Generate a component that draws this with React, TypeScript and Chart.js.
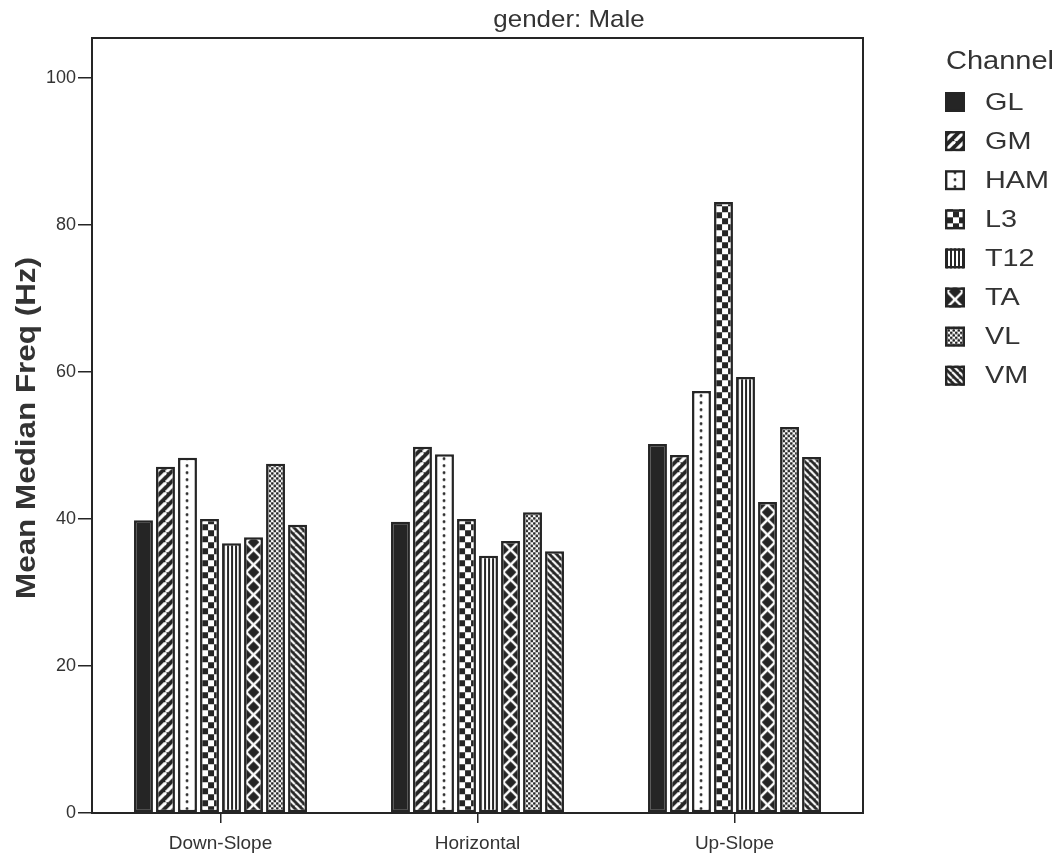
import React, { useEffect, useRef } from "react";
import { Chart, registerables } from "chart.js";

Chart.register(...registerables);

// ---- data ----
const categories = ["Down-Slope", "Horizontal", "Up-Slope"];
const channels = ["GL", "GM", "HAM", "L3", "T12", "TA", "VL", "VM"];
const glValues = [39.8, 39.6, 50.2];
const gmValues = [47.1, 49.8, 48.7];
const hamValues = [48.3, 48.8, 57.4];
const l3Values = [40.0, 40.0, 83.1];
const t12Values = [36.7, 35.0, 59.3];
const taValues = [37.5, 37.0, 42.3];
const vlValues = [47.5, 40.9, 52.5];
const vmValues = [39.2, 35.6, 48.4];
const yTickValues = [0, 20, 40, 60, 80, 100];

const seriesValues = [glValues, gmValues, hamValues, l3Values, t12Values, taValues, vlValues, vmValues];

// ---- styling ----
const INK = "#252525";
const TEXT = "#333333";
const FONT = '"Liberation Sans", Arial, Helvetica, sans-serif';

type Kind = "solid" | "slash" | "dots" | "checker" | "vlines" | "cross" | "mesh" | "backslash";
const fillKinds: Kind[] = ["solid", "slash", "dots", "checker", "vlines", "cross", "mesh", "backslash"];

// One repeating tile for each hatch style; w is the width of the bar it fills.
function makeTile(kind: Kind, w: number): HTMLCanvasElement {
  const c = document.createElement("canvas");
  const g = c.getContext("2d")!;
  const size = (tw: number, th: number) => {
    c.width = tw;
    c.height = th;
  };
  switch (kind) {
    case "slash": {
      size(10, 10);
      g.fillStyle = INK;
      g.fillRect(0, 0, 10, 10);
      g.strokeStyle = "#fff";
      g.lineWidth = 3.2;
      for (const o of [-10, 0, 10]) {
        g.beginPath();
        g.moveTo(o, 10);
        g.lineTo(o + 10, 0);
        g.stroke();
      }
      break;
    }
    case "backslash": {
      size(7, 7);
      g.fillStyle = INK;
      g.fillRect(0, 0, 7, 7);
      g.strokeStyle = "#fff";
      g.lineWidth = 2.2;
      for (const o of [-7, 0, 7]) {
        g.beginPath();
        g.moveTo(o, 0);
        g.lineTo(o + 7, 7);
        g.stroke();
      }
      break;
    }
    case "dots": {
      const tw = Math.round(w) + 30;
      size(tw, 7);
      g.fillStyle = "#fff";
      g.fillRect(0, 0, tw, 7);
      g.fillStyle = INK;
      g.beginPath();
      g.arc(Math.round(w / 2), 3.5, 1.4, 0, Math.PI * 2);
      g.fill();
      break;
    }
    case "checker": {
      size(12, 12);
      g.fillStyle = "#fff";
      g.fillRect(0, 0, 12, 12);
      g.fillStyle = INK;
      g.fillRect(0, 0, 6, 6);
      g.fillRect(6, 6, 6, 6);
      break;
    }
    case "vlines": {
      size(4, 4);
      g.fillStyle = "#fff";
      g.fillRect(0, 0, 4, 4);
      g.fillStyle = INK;
      g.fillRect(0, 0, 2, 4);
      break;
    }
    case "cross": {
      const s = Math.max(8, Math.round(w - 4));
      size(s, s);
      g.fillStyle = INK;
      g.fillRect(0, 0, s, s);
      g.strokeStyle = "#fff";
      g.lineWidth = 2.4;
      g.beginPath();
      g.moveTo(0, 0);
      g.lineTo(s, s);
      g.moveTo(s, 0);
      g.lineTo(0, s);
      g.stroke();
      break;
    }
    case "mesh": {
      size(5, 5);
      g.fillStyle = "#fff";
      g.fillRect(0, 0, 5, 5);
      g.fillStyle = INK;
      for (const [cx, cy] of [[1.25, 1.25], [3.75, 3.75]]) {
        g.beginPath();
        g.arc(cx, cy, 1.4, 0, Math.PI * 2);
        g.fill();
      }
      break;
    }
    default: {
      size(2, 2);
      g.fillStyle = INK;
      g.fillRect(0, 0, 2, 2);
    }
  }
  return c;
}

// A pattern anchored to the left edge / base of a box so every bar starts its hatch the same way.
function anchoredFill(ctx: CanvasRenderingContext2D, kind: Kind, w: number, left: number, base: number) {
  if (kind === "solid") return INK;
  const p = ctx.createPattern(makeTile(kind, w), "repeat")!;
  const ox = kind === "cross" || kind === "checker" ? left + 2 : kind === "vlines" ? left + 1 : left;
  p.setTransform(new DOMMatrix().translate(ox, base));
  return p;
}

// Text drawn with a slight horizontal stretch (wide grotesque look).
function stretchedText(
  ctx: CanvasRenderingContext2D,
  text: string,
  x: number,
  y: number,
  font: string,
  sx: number,
  align: CanvasTextAlign
) {
  ctx.save();
  ctx.font = font;
  ctx.fillStyle = TEXT;
  ctx.textAlign = align;
  ctx.textBaseline = "middle";
  ctx.translate(x, y);
  ctx.scale(sx, 1);
  ctx.fillText(text, 0, 0);
  ctx.restore();
}

const hatchPlugin = {
  id: "hatchFill",
  afterDatasetsUpdate(chart: any) {
    chart.data.datasets.forEach((_: any, i: number) => {
      const kind = fillKinds[i];
      const meta = chart.getDatasetMeta(i);
      meta.data.forEach((el: any) => {
        const { x, width, base } = el.getProps(["x", "width", "base"], true);
        const fill = anchoredFill(chart.ctx, kind, width, x - width / 2, base);
        el.options = Object.create(el.options, {
          backgroundColor: { value: fill, enumerable: true },
        });
      });
    });
  },
};

const decorPlugin = {
  id: "decor",
  beforeDraw(chart: any) {
    const { ctx, width, height } = chart;
    ctx.save();
    ctx.fillStyle = "#ffffff";
    ctx.fillRect(0, 0, width, height);
    ctx.restore();
  },
  afterDraw(chart: any) {
    const { ctx, chartArea } = chart;
    const { left, right, top, bottom } = chartArea;

    // frame around the plotting area
    ctx.save();
    ctx.strokeStyle = INK;
    ctx.lineWidth = 2;
    ctx.strokeRect(left, top, right - left, bottom - top);
    ctx.restore();

    // panel title
    stretchedText(ctx, "gender: Male", 569, 20, `24px ${FONT}`, 1.08, "center");

    // y axis title
    const yTitle = "Mean Median Freq (Hz)";
    ctx.save();
    ctx.font = `bold 28px ${FONT}`;
    const natural = ctx.measureText(yTitle).width;
    ctx.translate(27, 428);
    ctx.rotate(-Math.PI / 2);
    ctx.scale(342 / natural, 1);
    ctx.fillStyle = TEXT;
    ctx.textAlign = "center";
    ctx.textBaseline = "middle";
    ctx.fillText(yTitle, 0, 0);
    ctx.restore();

    // legend
    stretchedText(ctx, "Channel", 946, 62, `25px ${FONT}`, 1.16, "left");
    const boxLeft = 945;
    const box = 20;
    chart.data.datasets.forEach((ds: any, i: number) => {
      const cy = 102 + i * 39.1;
      const bt = cy - box / 2;
      ctx.save();
      ctx.fillStyle = anchoredFill(ctx, fillKinds[i], box, boxLeft, bt + box);
      ctx.fillRect(boxLeft, bt, box, box);
      ctx.strokeStyle = INK;
      ctx.lineWidth = 2.4;
      ctx.strokeRect(boxLeft + 1.2, bt + 1.2, box - 2.4, box - 2.4);
      ctx.restore();
      stretchedText(ctx, ds.label, 985, cy + 1, `24px ${FONT}`, 1.2, "left");
    });
  },
};

export default function App() {
  const canvasRef = useRef<HTMLCanvasElement | null>(null);

  useEffect(() => {
    const canvas = canvasRef.current;
    if (!canvas) return;
    Chart.defaults.font.family = FONT;

    const chart = new Chart(canvas, {
      type: "bar",
      data: {
        labels: categories,
        datasets: channels.map((name, i) => ({
          label: name,
          data: seriesValues[i],
          backgroundColor: INK,
          borderColor: INK,
          borderWidth: 2.5,
          borderSkipped: false,
          categoryPercentage: 0.685,
          barPercentage: 0.86,
        })),
      },
      options: {
        responsive: false,
        animation: false,
        devicePixelRatio: 1,
        layout: { padding: { left: 0, right: 200, top: 38, bottom: 0 } },
        plugins: {
          legend: { display: false },
          title: { display: false },
          tooltip: { enabled: false },
        },
        scales: {
          x: {
            afterFit: (s: any) => {
              s.height = 44;
            },
            grid: {
              offset: false,
              drawOnChartArea: false,
              drawTicks: true,
              tickLength: 10,
              color: INK,
              lineWidth: 1.5,
            },
            border: { display: false },
            ticks: {
              color: TEXT,
              padding: 9,
              font: { family: FONT, size: 19 },
              maxRotation: 0,
            },
          },
          y: {
            min: 0,
            max: 105.4,
            afterFit: (s: any) => {
              s.width = 92;
            },
            afterBuildTicks: (s: any) => {
              s.ticks = yTickValues.map((v) => ({ value: v }));
            },
            grid: {
              drawOnChartArea: false,
              drawTicks: true,
              tickLength: 14,
              color: INK,
              lineWidth: 1.5,
            },
            border: { display: false },
            ticks: {
              color: TEXT,
              padding: 2,
              font: { family: FONT, size: 18 },
            },
          },
        },
      },
      plugins: [hatchPlugin, decorPlugin],
    });

    return () => chart.destroy();
  }, []);

  return (
    <div style={{ position: "fixed", left: 0, top: 0, width: 1063, height: 857, background: "#fff" }}>
      <canvas ref={canvasRef} width={1063} height={857} style={{ display: "block" }} />
    </div>
  );
}
